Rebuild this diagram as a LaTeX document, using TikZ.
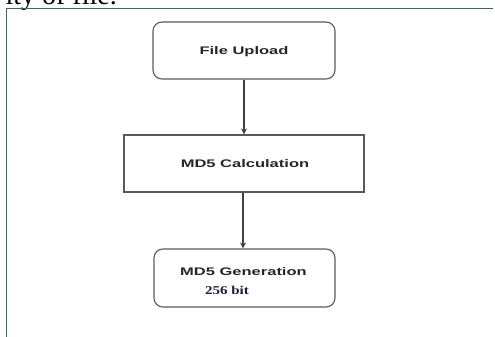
\documentclass[tikz,border=0pt]{standalone}
\usepackage{fontspec}
\setmainfont{Liberation Serif}
\newfontfamily\labelfont{Liberation Sans}
\usetikzlibrary{arrows.meta}
\definecolor{framecol}{HTML}{2F6B68}
\definecolor{boxcol}{HTML}{5A5A5A}
\definecolor{bitcol}{HTML}{1C1C3A}
\tikzset{
  flowbox/.style={draw=boxcol, line width=1.1pt, fill=white, inner sep=0pt},
  roundbox/.style={flowbox, rounded corners=9pt},
  flowarrow/.style={draw=black!75, line width=1.1pt, -{Stealth[length=6pt,width=6pt]}},
  boxlabel/.style={font=\labelfont\bfseries\fontsize{11}{13}\selectfont, text=black!85},
  framerule/.style={draw=framecol, line width=1.5pt}
}
\begin{document}
\begin{tikzpicture}[x=1pt, y=-1pt]
  \useasboundingbox (0,0) rectangle (495,337);
  \begin{scope}
    \clip (0,0) rectangle (495,337);
    % tail of the preceding sentence, only its lower part shows
    \node[anchor=base east, inner sep=0pt, font=\fontsize{28}{30}\selectfont] (prevline) at (117,5) {ity of file.};
  \end{scope}
  % page frame
  \coordinate (ftl) at (6.5,8.5);
  \coordinate (ftr) at (493,8.5);
  \coordinate (fbl) at (6.5,337);
  \draw[framerule] (ftr) -- (ftl) -- (fbl);

  % flow boxes
  \node[roundbox, minimum width=182pt, minimum height=57pt] (upload) at (244,50.5) {};
  \node[flowbox, minimum width=240pt, minimum height=57pt] (calc) at (244,163.5) {};
  \node[roundbox, minimum width=181pt, minimum height=58pt] (gen) at (244.5,278) {};

  % labels
  \node[boxlabel] (uploadtxt) at (244,52) {\scalebox{1.5}[1]{File Upload}};
  \node[boxlabel] (calctxt) at (245,164) {\scalebox{1.5}[1]{MD5 Calculation}};
  \node[boxlabel] (gentxt) at (243.5,272) {\scalebox{1.5}[1]{MD5 Generation}};
  \node[font=\bfseries\fontsize{12}{14}\selectfont, text=bitcol] (bits) at (227,290) {\scalebox{1.25}[1]{256 bit}};

  % connectors
  \draw[flowarrow] (upload.south) -- (calc.north);
  \draw[flowarrow] ([xshift=-1pt]calc.south) -- ([xshift=-1.5pt]gen.north);
\end{tikzpicture}
\end{document}
